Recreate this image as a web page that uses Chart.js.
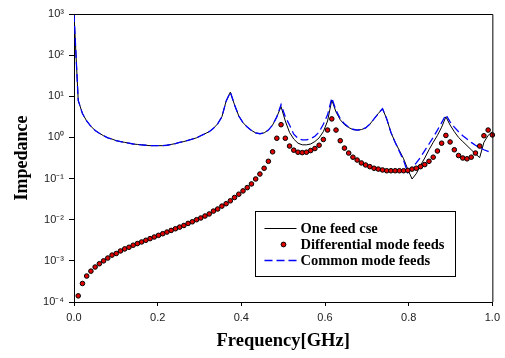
<!DOCTYPE html>
<html>
<head>
<meta charset="utf-8">
<script src="https://cdn.jsdelivr.net/npm/chart.js@4/dist/chart.umd.min.js"></script>
<style>
  body { margin: 0; background: #fff; }
  #wrap { width: 505px; height: 358px; }
</style>
</head>
<body>
<div id="wrap"><canvas id="chart" width="505" height="358"></canvas></div>
<script>
// frequency grid (GHz), 100 samples from 0 to 1
const freq = [
  0, 0.0101, 0.0202, 0.0303, 0.0404, 0.0505, 0.0606, 0.0707, 0.0808, 0.0909,
  0.1010, 0.1111, 0.1212, 0.1313, 0.1414, 0.1515, 0.1616, 0.1717, 0.1818, 0.1919,
  0.2020, 0.2121, 0.2222, 0.2323, 0.2424, 0.2525, 0.2626, 0.2727, 0.2828, 0.2929,
  0.3030, 0.3131, 0.3232, 0.3333, 0.3434, 0.3535, 0.3636, 0.3737, 0.3838, 0.3939,
  0.4040, 0.4141, 0.4242, 0.4343, 0.4444, 0.4545, 0.4646, 0.4747, 0.4848, 0.4949,
  0.5051, 0.5152, 0.5253, 0.5354, 0.5455, 0.5556, 0.5657, 0.5758, 0.5859, 0.5960,
  0.6061, 0.6162, 0.6263, 0.6364, 0.6465, 0.6566, 0.6667, 0.6768, 0.6869, 0.6970,
  0.7071, 0.7172, 0.7273, 0.7374, 0.7475, 0.7576, 0.7677, 0.7778, 0.7879, 0.7980,
  0.8081, 0.8182, 0.8283, 0.8384, 0.8485, 0.8586, 0.8687, 0.8788, 0.8889, 0.8990,
  0.9091, 0.9192, 0.9293, 0.9394, 0.9495, 0.9596, 0.9697, 0.9798, 0.9899, 1.0
];

const oneFeed = [
  1000, 7.94, 3.80, 2.51, 1.86, 1.48, 1.26, 1.10, 0.977, 0.912,
  0.832, 0.794, 0.759, 0.724, 0.692, 0.676, 0.661, 0.646, 0.631, 0.631,
  0.631, 0.631, 0.646, 0.676, 0.708, 0.759, 0.794, 0.851, 0.912, 0.977,
  1.10, 1.23, 1.38, 1.66, 2.14, 3.16, 7.59, 12.6, 6.17, 3.31,
  2.29, 1.78, 1.48, 1.29, 1.23, 1.29, 1.51, 2.00, 3.16, 5.62,
  2.51, 1.32, 0.912, 0.724, 0.661, 0.661, 0.692, 0.794, 0.977, 1.38,
  2.51, 8.13, 4.17, 2.69, 2.04, 1.74, 1.55, 1.51, 1.55, 1.70,
  2.09, 2.82, 3.80, 5.01, 2.82, 1.32, 0.759, 0.479, 0.302, 0.166,
  0.0977, 0.132, 0.209, 0.316, 0.501, 0.759, 1.12, 1.78, 3.16, 2.00,
  1.38, 1.00, 0.794, 0.631, 0.501, 0.398, 0.324, 0.759, 1.12, 1.38
];

const diffMode = [
  null, 1.41e-4, 2.82e-4, 4.27e-4, 5.62e-4, 7.08e-4, 8.51e-4, 1.00e-3, 1.17e-3, 1.38e-3,
  1.51e-3, 1.74e-3, 1.95e-3, 2.14e-3, 2.40e-3, 2.63e-3, 2.88e-3, 3.16e-3, 3.47e-3, 3.80e-3,
  4.17e-3, 4.57e-3, 5.01e-3, 5.50e-3, 6.03e-3, 6.61e-3, 7.24e-3, 8.13e-3, 8.91e-3, 1.00e-2,
  1.10e-2, 1.23e-2, 1.38e-2, 1.62e-2, 1.82e-2, 2.14e-2, 2.45e-2, 2.88e-2, 3.47e-2, 4.17e-2,
  5.01e-2, 6.03e-2, 7.41e-2, 9.77e-2, 0.129, 0.178, 0.263, 0.447, 0.955, 2.04,
  0.955, 0.617, 0.490, 0.437, 0.427, 0.437, 0.479, 0.537, 0.646, 0.891,
  1.51, 2.82, 1.51, 0.832, 0.550, 0.417, 0.331, 0.282, 0.240, 0.214,
  0.195, 0.178, 0.170, 0.162, 0.155, 0.155, 0.155, 0.155, 0.155, 0.158,
  0.170, 0.178, 0.195, 0.219, 0.263, 0.331, 0.468, 0.724, 1.12, 0.776,
  0.501, 0.363, 0.316, 0.302, 0.331, 0.417, 0.617, 1.10, 1.51, 1.15
];

const commonMode = [
  1000, 7.94, 3.80, 2.51, 1.86, 1.48, 1.26, 1.10, 0.977, 0.912,
  0.832, 0.794, 0.759, 0.724, 0.692, 0.676, 0.661, 0.646, 0.631, 0.631,
  0.631, 0.631, 0.646, 0.676, 0.708, 0.759, 0.794, 0.851, 0.912, 0.977,
  1.10, 1.23, 1.38, 1.66, 2.14, 3.16, 7.59, 12.6, 6.17, 3.31,
  2.29, 1.78, 1.48, 1.29, 1.23, 1.29, 1.51, 2.00, 3.16, 6.31,
  3.16, 2.00, 1.20, 0.955, 0.871, 0.871, 0.933, 1.07, 1.35, 2.09,
  3.55, 9.12, 4.57, 2.88, 2.14, 1.78, 1.58, 1.51, 1.55, 1.70,
  2.09, 2.82, 3.80, 5.01, 2.82, 1.32, 0.759, 0.457, 0.275, 0.138,
  0.182, 0.240, 0.331, 0.479, 0.692, 1.00, 1.51, 2.29, 3.55, 2.40,
  1.78, 1.38, 1.10, 0.912, 0.759, 0.646, 0.562, 0.501, 0.457, 0.417
];

const seriesLabels = ['One feed cse', 'Differential mode feeds', 'Common mode feeds'];
const xTicks = [0, 0.2, 0.4, 0.6, 0.8, 1.0];
const yTicks = [1e-4, 1e-3, 1e-2, 1e-1, 1, 10, 100, 1000];
const yTickLabels = ['10\u207B\u2074', '10\u207B\u00B3', '10\u207B\u00B2', '10\u207B\u00B9', '10\u2070', '10\u00B9', '10\u00B2', '10\u00B3'];

const toPoints = vals => freq.map((f, i) => ({ x: f, y: vals[i] }));

// top and right frame lines of the plot box
const frame = {
  id: 'frame',
  afterDraw(chart) {
    const { ctx, chartArea: a } = chart;
    ctx.save();
    ctx.strokeStyle = '#000';
    ctx.lineWidth = 1;
    ctx.beginPath();
    ctx.moveTo(a.left, a.top + 0.5);
    ctx.lineTo(a.right + 0.5, a.top + 0.5);
    ctx.lineTo(a.right + 0.5, a.bottom);
    ctx.stroke();
    ctx.restore();
  }
};

// boxed legend inside the plot, lower right
const boxLegend = {
  id: 'boxLegend',
  afterDraw(chart) {
    const { ctx, chartArea: a } = chart;
    const x = Math.round(a.left + 181) + 0.5, y = Math.round(a.top + 197) + 0.5;
    ctx.save();
    ctx.fillStyle = '#fff';
    ctx.fillRect(x, y, 200, 65);
    ctx.strokeStyle = '#000';
    ctx.lineWidth = 1;
    ctx.strokeRect(x, y, 200, 65);
    ctx.font = 'bold 14.5px "Liberation Serif", "Times New Roman", serif';
    ctx.textBaseline = 'alphabetic';
    chart.data.datasets.forEach((ds, i) => {
      const base = y + 21 + i * 16;
      const sy = base - 4;
      if (ds.showLine === false) {
        ctx.beginPath();
        ctx.arc(x + 28, sy, 2.4, 0, Math.PI * 2);
        ctx.fillStyle = ds.pointBackgroundColor;
        ctx.fill();
        ctx.strokeStyle = ds.pointBorderColor;
        ctx.lineWidth = 1;
        ctx.stroke();
      } else {
        ctx.beginPath();
        ctx.setLineDash(ds.borderDash || []);
        ctx.strokeStyle = ds.borderColor;
        ctx.lineWidth = ds.borderWidth;
        ctx.moveTo(x + 9, sy);
        ctx.lineTo(x + 41, sy);
        ctx.stroke();
        ctx.setLineDash([]);
      }
      ctx.fillStyle = '#000';
      ctx.fillText(ds.label, x + 45, base);
    });
    ctx.restore();
  }
};

new Chart(document.getElementById('chart'), {
  type: 'line',
  data: {
    datasets: [
      {
        label: seriesLabels[0],
        data: toPoints(oneFeed),
        borderColor: '#000',
        borderWidth: 1,
        pointRadius: 0,
        tension: 0,
        order: 3
      },
      {
        label: seriesLabels[1],
        data: toPoints(diffMode),
        showLine: false,
        pointRadius: 2.3,
        pointBorderWidth: 1,
        pointBackgroundColor: '#e00000',
        pointBorderColor: '#000',
        clip: false,
        order: 1
      },
      {
        label: seriesLabels[2],
        data: toPoints(commonMode),
        borderColor: '#0000ff',
        borderWidth: 1.3,
        borderDash: [8, 4],
        pointRadius: 0,
        tension: 0,
        order: 2
      }
    ]
  },
  options: {
    responsive: false,
    devicePixelRatio: 1,
    animation: false,
    layout: { padding: { top: 14, right: 12, left: 0, bottom: 0 } },
    plugins: {
      legend: { display: false },
      tooltip: { enabled: false }
    },
    scales: {
      x: {
        type: 'linear',
        min: 0,
        max: 1,
        afterBuildTicks: s => { s.ticks = xTicks.map(v => ({ value: v })); },
        afterFit: s => { s.height = 56; },
        ticks: {
          callback: v => v.toFixed(1),
          color: '#222',
          padding: 5,
          maxRotation: 0,
          font: { family: '"Liberation Sans", Arial, sans-serif', size: 11 }
        },
        grid: { drawOnChartArea: false, drawTicks: true, tickLength: 4, color: '#000' },
        border: { color: '#000', width: 1 },
        title: {
          display: true,
          text: 'Frequency[GHz]',
          color: '#000',
          padding: { top: 0, bottom: 6 },
          font: { family: '"Liberation Serif", "Times New Roman", serif', size: 18.5, weight: 'bold' }
        }
      },
      y: {
        type: 'logarithmic',
        min: 1e-4,
        max: 1e3,
        afterBuildTicks: s => { s.ticks = yTicks.map(v => ({ value: v })); },
        afterFit: s => { s.width = 74; },
        ticks: {
          callback: (v, i) => yTickLabels[i],
          color: '#222',
          padding: 5,
          font: { family: '"Liberation Sans", Arial, sans-serif', size: 11 }
        },
        grid: { drawOnChartArea: false, drawTicks: true, tickLength: 5, color: '#000' },
        border: { color: '#000', width: 1 },
        title: {
          display: true,
          text: 'Impedance',
          color: '#000',
          padding: { top: 12, bottom: 0 },
          font: { family: '"Liberation Serif", "Times New Roman", serif', size: 18, weight: 'bold' }
        }
      }
    }
  },
  plugins: [frame, boxLegend]
});
</script>
</body>
</html>
